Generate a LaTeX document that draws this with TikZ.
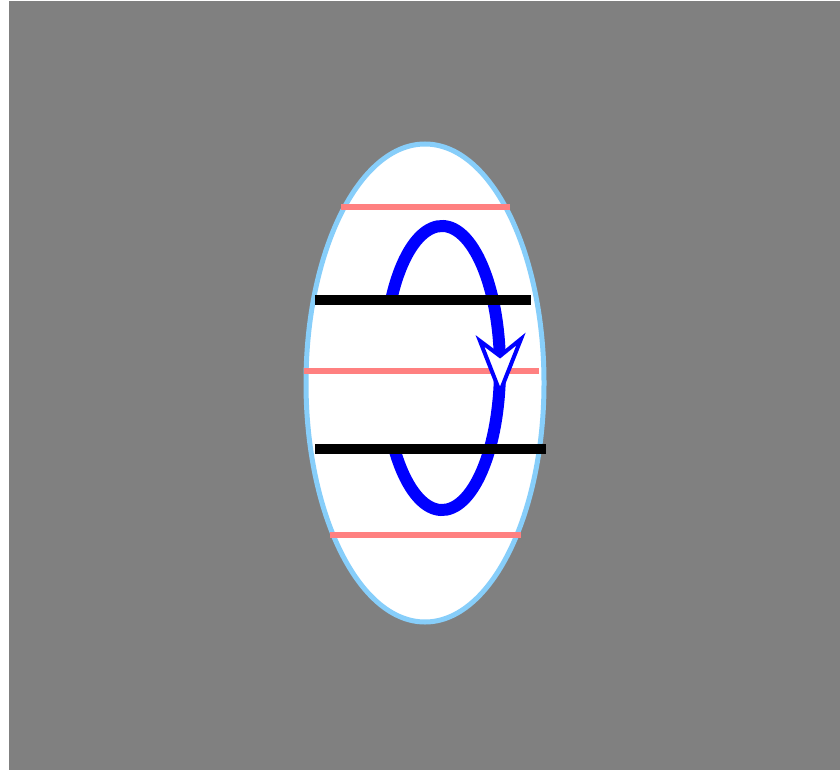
\documentclass[tikz,border=0pt]{standalone}
\usepackage{xcolor}
\usepackage{tikz}
\definecolor{skyRim}{RGB}{135,206,250}
\definecolor{pinkRule}{RGB}{255,128,128}

\begin{document}
\begin{tikzpicture}[
  x=1pt, y=1pt,
  pinkLine/.style={draw=pinkRule, line width=6pt},
  blackBar/.style={draw=black, line width=10pt},
  loopLine/.style={draw=blue, line width=12pt},
  tipHead/.style={draw=blue, fill=white, line width=4pt, line join=miter},
]
\useasboundingbox (0,0) rectangle (840,-770);
\fill[gray] (9,-1) rectangle (840,-770);

% outer body
\draw[skyRim, fill=white, line width=5pt] (425,-383) ellipse [x radius=119, y radius=239];

% pink rules
\draw[pinkLine] (341,-207) -- (510,-207);
\draw[pinkLine] (304,-371) -- (539,-371);
\draw[pinkLine] (330,-535) -- (521,-535);

% current loop
\draw[loopLine] (442,-368) ++(150.4:58 and 142)
  arc[start angle=150.4, end angle=-145.3, x radius=58, y radius=142];
\draw[tipHead] (500,-392) -- (480,-341) -- (500,-356) -- (521,-339) -- cycle;

% black rules
\draw[blackBar] (315,-300) -- (531,-300);
\draw[blackBar] (315,-449) -- (546,-449);
\end{tikzpicture}
\end{document}
